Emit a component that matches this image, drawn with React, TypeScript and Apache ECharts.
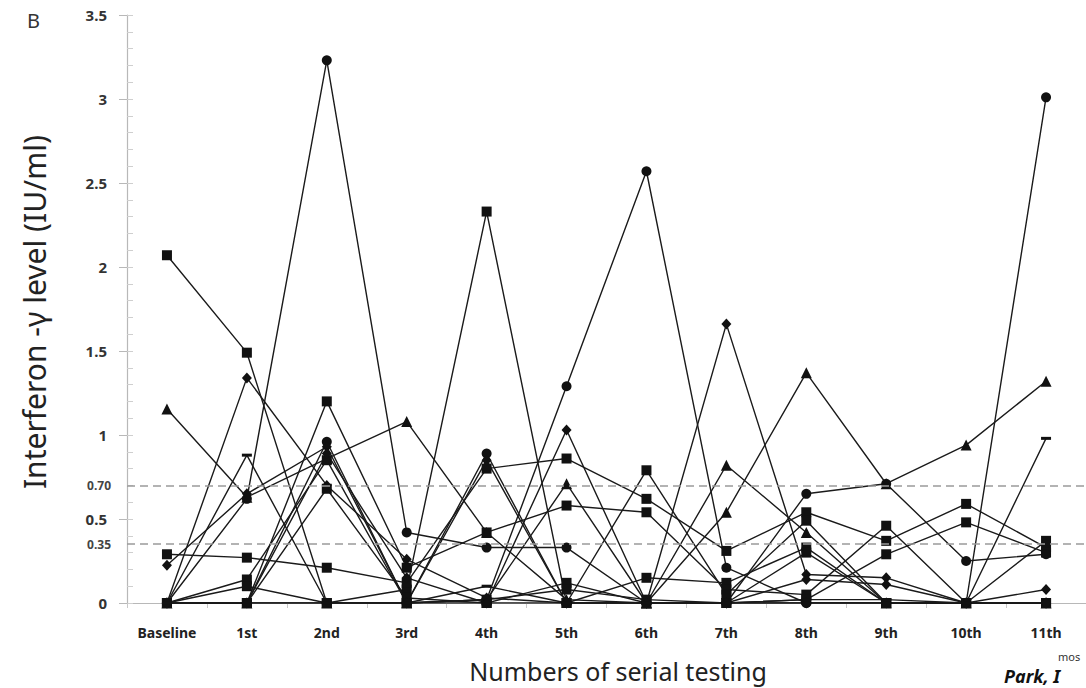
import React, { useEffect, useRef } from "react";
import * as echarts from "echarts";

const categories = ["Baseline", "1st", "2nd", "3rd", "4th", "5th", "6th", "7th", "8th", "9th", "10th", "11th"];

// Patient series (IFN-gamma IU/ml)
const sq1 = [2.07, 1.49, 0.0, 0.08, 2.33, 0.0, 0.15, 0.12, 0.33, 0.0, 0.0, 0.0];
const sq2 = [0.29, 0.27, 0.21, 0.12, 0.8, 0.86, 0.62, 0.31, 0.54, 0.37, 0.59, 0.33];
const sq3 = [0.0, 0.0, 1.2, 0.21, 0.42, 0.58, 0.54, 0.08, 0.05, 0.46, 0.0, 0.0];
const sq4 = [0.0, 0.14, 0.85, 0.0, 0.0, 0.12, 0.0, 0.0, 0.3, 0.0, 0.0, 0.37];
const sq5 = [0.0, 0.1, 0.0, 0.0, 0.02, 0.08, 0.02, 0.0, 0.02, 0.29, 0.48, 0.3];
const sq6 = [0.0, 0.0, 0.68, 0.03, 0.0, 0.0, 0.79, 0.05, 0.49, 0.0, 0.0, 0.0];
const ci1 = [0.0, 0.62, 3.23, 0.42, 0.33, 0.33, 0.0, 0.0, 0.65, 0.71, 0.25, 0.29];
const ci2 = [0.0, 0.0, 0.96, 0.0, 0.02, 1.29, 2.57, 0.21, 0.0, 0.0, 0.0, 3.01];
const ci3 = [0.0, 0.0, 0.0, 0.0, 0.89, 0.0, 0.0, 0.0, 0.0, 0.0, 0.0, 0.0];
const tr1 = [1.155, 0.63, 0.86, 1.08, 0.42, 0.02, 0.0, 0.82, 0.42, 0.0, 0.0, 0.0];
const tr2 = [0.0, 0.0, 0.0, 0.0, 0.02, 0.71, 0.0, 0.54, 1.37, 0.71, 0.94, 1.32];
const di1 = [0.0, 1.34, 0.7, 0.26, 0.03, 0.0, 0.0, 1.66, 0.17, 0.15, 0.0, 0.08];
const di2 = [0.225, 0.65, 0.93, 0.0, 0.85, 0.0, 0.0, 0.0, 0.14, 0.11, 0.0, 0.0];
const di3 = [0.0, 0.0, 0.89, 0.15, 0.0, 1.03, 0.0, 0.0, 0.0, 0.0, 0.0, 0.0];
const da1 = [0.0, 0.88, 0.0, 0.0, 0.1, 0.0, 0.0, 0.0, 0.02, 0.02, 0.0, 0.98];

const thresholdValues = [0.7, 0.35];
const thresholdLabels = ["0.70", "0.35"];

const FONT = "'Noto Sans', 'DejaVu Sans', sans-serif";

export default function App() {
  const ref = useRef<HTMLDivElement>(null);

  useEffect(() => {
    if (!ref.current) return;
    const chart = echarts.init(ref.current, undefined, { renderer: "svg" });

    const seriesDefs: { data: number[]; symbol: string; size: any }[] = [
      { data: sq1, symbol: "rect", size: 10 },
      { data: sq2, symbol: "rect", size: 10 },
      { data: sq3, symbol: "rect", size: 10 },
      { data: sq4, symbol: "rect", size: 10 },
      { data: sq5, symbol: "rect", size: 10 },
      { data: sq6, symbol: "rect", size: 10 },
      { data: ci1, symbol: "circle", size: 10 },
      { data: ci2, symbol: "circle", size: 10 },
      { data: ci3, symbol: "circle", size: 10 },
      { data: tr1, symbol: "triangle", size: 11 },
      { data: tr2, symbol: "triangle", size: 11 },
      { data: di1, symbol: "diamond", size: [10, 11] },
      { data: di2, symbol: "diamond", size: [10, 11] },
      { data: di3, symbol: "diamond", size: [10, 11] },
      { data: da1, symbol: "rect", size: [10, 3] },
    ];

    const series: any[] = seriesDefs.map((s) => ({
      type: "line",
      data: s.data,
      symbol: s.symbol,
      symbolSize: s.size,
      showSymbol: true,
      lineStyle: { color: "#1a1a1a", width: 1.4 },
      itemStyle: { color: "#111" },
      emphasis: { disabled: true },
      z: 3,
    }));

    series.push({
      type: "line",
      data: [],
      markLine: {
        silent: true,
        symbol: "none",
        lineStyle: { color: "#9a9a9a", type: [8, 5], width: 1.6 },
        label: {
          position: "start",
          distance: 16,
          fontSize: 12,
          fontWeight: "bold",
          color: "#444",
          fontFamily: FONT,
          formatter: (p: any) => thresholdLabels[p.dataIndex],
        },
        data: thresholdValues.map((v) => ({ yAxis: v })),
      },
      z: 2,
    });

    chart.setOption({
      animation: false,
      backgroundColor: "#ffffff",
      grid: { left: 127, top: 15, width: 979, height: 588, containLabel: false },
      xAxis: {
        type: "category",
        data: categories,
        boundaryGap: true,
        axisLine: { show: true, lineStyle: { color: "#b8b8b8", width: 1.2 } },
        axisTick: { show: true, length: 5, lineStyle: { color: "#c8c8c8" } },
        axisLabel: {
          margin: 22,
          fontSize: 14,
          fontWeight: "bold",
          color: "#222",
          fontFamily: FONT,
          interval: 0,
        },
      },
      yAxis: [
        {
          type: "value",
          min: 0,
          max: 3.5,
          interval: 0.5,
          axisLine: { show: true, lineStyle: { color: "#b8b8b8", width: 1.2 } },
          axisTick: { show: true, length: 8, lineStyle: { color: "#b8b8b8" } },
          splitLine: { show: false },
          axisLabel: {
            margin: 20,
            fontSize: 15,
            fontWeight: "bold",
            color: "#333",
            fontFamily: FONT,
            formatter: (v: number) => String(v),
          },
        },
        {
          type: "value",
          min: 0,
          max: 3.5,
          interval: 0.1,
          position: "left",
          axisLine: { show: false },
          axisTick: { show: true, inside: true, length: 6, lineStyle: { color: "#cfcfcf" } },
          axisLabel: { show: false },
          splitLine: { show: false },
        },
      ],
      series,
      graphic: [
        {
          type: "text",
          left: 27,
          top: 10,
          style: { text: "B", fontSize: 20, fill: "#333", fontFamily: FONT },
        },
        {
          type: "text",
          x: 34,
          y: 312,
          rotation: Math.PI / 2,
          style: {
            text: "Interferon -γ level (IU/ml)",
            fontSize: 30,
            fill: "#222",
            fontFamily: FONT,
            align: "center",
            verticalAlign: "middle",
          },
        },
        {
          type: "text",
          x: 618,
          y: 671,
          style: {
            text: "Numbers of serial testing",
            fontSize: 25,
            fill: "#222",
            fontFamily: FONT,
            align: "center",
            verticalAlign: "middle",
          },
        },
        {
          type: "text",
          x: 1058,
          y: 656,
          style: { text: "mos", fontSize: 11, fill: "#333", fontFamily: FONT, verticalAlign: "middle" },
        },
        {
          type: "text",
          x: 1004,
          y: 676,
          style: {
            text: "Park, I",
            fontSize: 18,
            fontWeight: "bold",
            fontStyle: "italic",
            fill: "#111",
            fontFamily: FONT,
            verticalAlign: "middle",
          },
        },
      ],
    });

    return () => chart.dispose();
  }, []);

  return (
    <div
      ref={ref}
      style={{ position: "absolute", left: 0, top: 0, width: 1086, height: 688, background: "#fff" }}
    />
  );
}
